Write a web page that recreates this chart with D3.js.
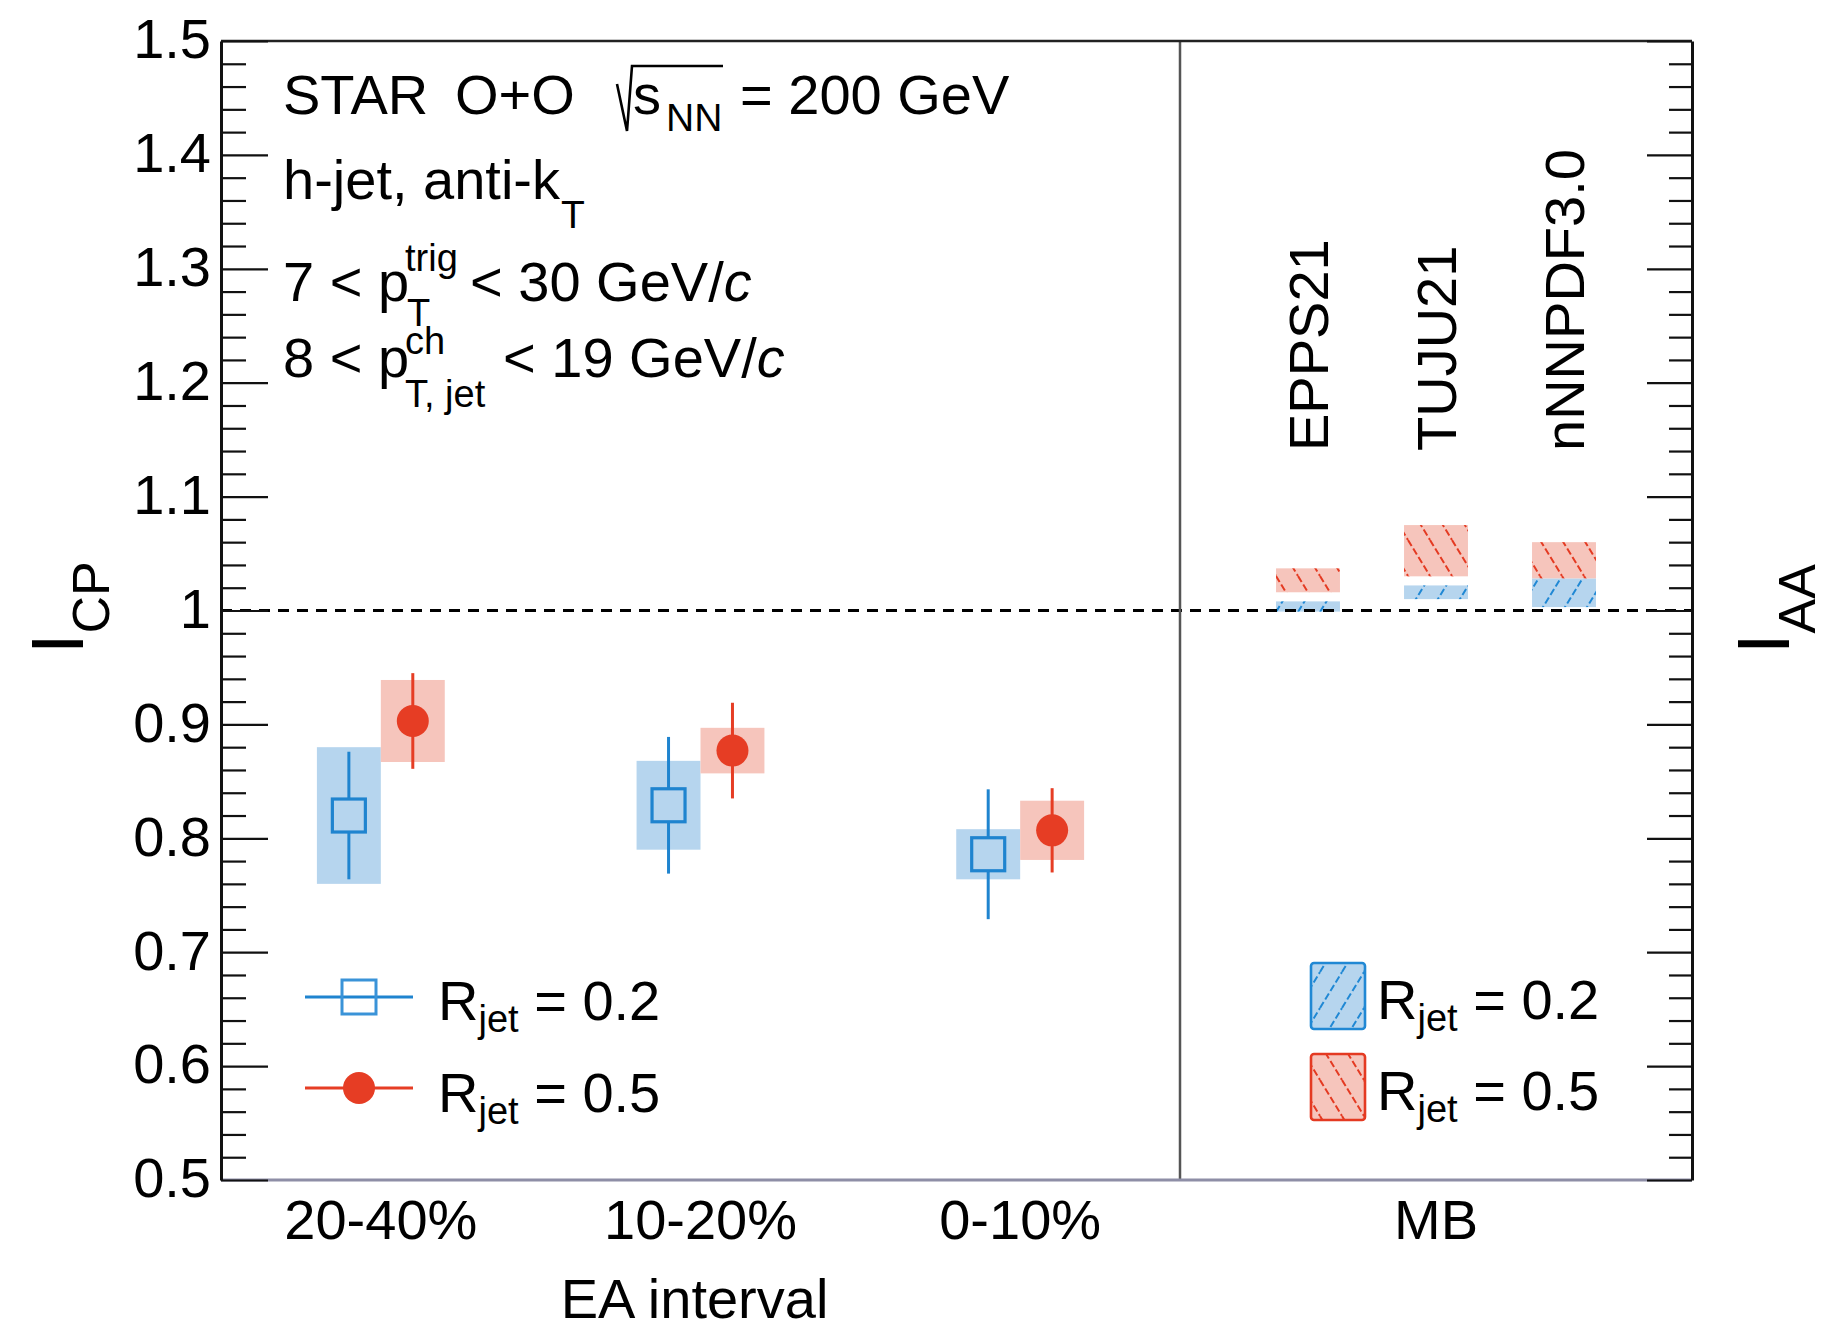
<!DOCTYPE html>
<html><head><meta charset="utf-8">
<script src="https://cdn.jsdelivr.net/npm/d3@7"></script>
<style>
body{margin:0;background:#fff}
svg{display:block}
text{font-family:"Liberation Sans",Arial,Helvetica,sans-serif;fill:#000}
</style>
</head><body>
<svg id="c" width="1845" height="1340"></svg>
<script>
// ---------------- data ----------------
const categories = ["20-40%", "10-20%", "0-10%"];
const r02Values = [0.820, 0.829, 0.786];
const r02Stat   = [0.056, 0.060, 0.057];
const r02Sys    = [0.060, 0.039, 0.022];
const r05Values = [0.903, 0.877, 0.807];
const r05Stat   = [0.042, 0.042, 0.037];
const r05Sys    = [0.036, 0.020, 0.026];

const mbCategory = ["MB"];
const models = ["EPPS21", "TUJU21", "nNNPDF3.0"];
const modelR02Low  = [0.999, 1.010, 1.003];
const modelR02High = [1.008, 1.022, 1.028];
const modelR05Low  = [1.016, 1.030, 1.028];
const modelR05High = [1.037, 1.075, 1.060];

const yMajorTicks = [0.5, 0.6, 0.7, 0.8, 0.9, 1.0, 1.1, 1.2, 1.3, 1.4, 1.5];
const yTickLabels = ["0.5", "0.6", "0.7", "0.8", "0.9", "1", "1.1", "1.2", "1.3", "1.4", "1.5"];

// ---------------- style ----------------
const BLUE = "#1f84cf", BLUE_FILL = "#b6d5ee", BLUE_HATCH = "#2088d4";
const RED = "#e63d24", RED_FILL = "#f6c5bc", RED_HATCH = "#e43a22";
const FS = 56, FS_SUB = 38;

// ---------------- layout ----------------
const L = 221, R = 1692, T = 41, B = 1180, DIV = 1180;
const svg = d3.select("#c");

const y = d3.scaleLinear().domain([0.5, 1.5]).range([B, T]);
const xCat = d3.scaleBand().domain(categories).range([L, DIV]);
const xMB = d3.scaleBand().domain(mbCategory).range([DIV, R]);
const xModel = d3.scalePoint().domain(models).range([DIV, R]).padding(1);
const boxW = xCat.bandwidth() / 5;
const cx = c => xCat(c) + xCat.bandwidth() / 2;

// hatch patterns
const defs = svg.append("defs");
function hatch(id, color, dir) {
  const w = 22, h = 36;
  const p = defs.append("pattern").attr("id", id)
    .attr("patternUnits", "userSpaceOnUse").attr("width", w).attr("height", h);
  [-w, 0, w].forEach(o => {
    p.append("line")
      .attr("x1", o).attr("y1", dir > 0 ? h : 0)
      .attr("x2", o + w).attr("y2", dir > 0 ? 0 : h)
      .attr("stroke", color).attr("stroke-width", 2)
      .attr("stroke-dasharray", "7,3");
  });
}
hatch("hBlue", BLUE_HATCH, 1);
hatch("hRed", RED_HATCH, -1);

// ---------------- systematic boxes ----------------
const g = svg.append("g");
function sysBoxes(vals, sys, off, fill) {
  g.selectAll(null).data(categories).enter().append("rect")
    .attr("x", (c) => cx(c) + off - boxW / 2)
    .attr("width", boxW)
    .attr("y", (c, i) => y(vals[i] + sys[i]))
    .attr("height", (c, i) => y(vals[i] - sys[i]) - y(vals[i] + sys[i]))
    .attr("fill", fill);
}
sysBoxes(r02Values, r02Sys, -boxW / 2, BLUE_FILL);
sysBoxes(r05Values, r05Sys, boxW / 2, RED_FILL);

// model boxes
function modelBoxes(lo, hi, fill, pat) {
  [fill, `url(#${pat})`].forEach(f => {
    g.selectAll(null).data(models).enter().append("rect")
      .attr("x", m => xModel(m) - boxW / 2)
      .attr("width", boxW)
      .attr("y", (m, i) => y(hi[i]))
      .attr("height", (m, i) => y(lo[i]) - y(hi[i]))
      .attr("fill", f);
  });
}
modelBoxes(modelR05Low, modelR05High, RED_FILL, "hRed");
modelBoxes(modelR02Low, modelR02High, BLUE_FILL, "hBlue");

// ---------------- dashed unity line ----------------
svg.append("line").attr("x1", L).attr("x2", R).attr("y1", y(1)).attr("y2", y(1))
  .attr("stroke", "#000").attr("stroke-width", 3).attr("stroke-dasharray", "11,8");

// ---------------- stat error bars + markers ----------------
const SQ = 33, RC = 16;
categories.forEach((c, i) => {
  const x0 = cx(c) - boxW / 2, v = r02Values[i];
  g.append("line").attr("x1", x0).attr("x2", x0)
    .attr("y1", y(v + r02Stat[i])).attr("y2", y(v) - SQ / 2)
    .attr("stroke", BLUE).attr("stroke-width", 3);
  g.append("line").attr("x1", x0).attr("x2", x0)
    .attr("y1", y(v) + SQ / 2).attr("y2", y(v - r02Stat[i]))
    .attr("stroke", BLUE).attr("stroke-width", 3);
});
g.selectAll(null).data(categories).enter().append("rect")
  .attr("x", c => cx(c) - boxW / 2 - SQ / 2)
  .attr("y", (c, i) => y(r02Values[i]) - SQ / 2)
  .attr("width", SQ).attr("height", SQ)
  .attr("fill", "none").attr("stroke", BLUE).attr("stroke-width", 3.2);
g.selectAll(null).data(categories).enter().append("line")
  .attr("x1", c => cx(c) + boxW / 2).attr("x2", c => cx(c) + boxW / 2)
  .attr("y1", (c, i) => y(r05Values[i] + r05Stat[i]))
  .attr("y2", (c, i) => y(r05Values[i] - r05Stat[i]))
  .attr("stroke", RED).attr("stroke-width", 3);
g.selectAll(null).data(categories).enter().append("circle")
  .attr("cx", c => cx(c) + boxW / 2)
  .attr("cy", (c, i) => y(r05Values[i]))
  .attr("r", RC).attr("fill", RED);

// ---------------- frame & axes ----------------
svg.append("line").attr("x1", DIV).attr("x2", DIV).attr("y1", T).attr("y2", B)
  .attr("stroke", "#555").attr("stroke-width", 2.5);
svg.append("line").attr("x1", L).attr("x2", R).attr("y1", T).attr("y2", T)
  .attr("stroke", "#222").attr("stroke-width", 2.5);
svg.append("line").attr("x1", L).attr("x2", R).attr("y1", B).attr("y2", B)
  .attr("stroke", "#8e8ea6").attr("stroke-width", 3);

const minorTicks = d3.range(0, 51).map(k => 0.5 + k * 0.02)
  .filter(v => Math.abs(v * 10 - Math.round(v * 10)) > 1e-6);

function styleAxis(sel) {
  sel.select(".domain").attr("stroke", "#111").attr("stroke-width", 3);
  sel.selectAll(".tick line").attr("stroke", "#111").attr("stroke-width", 2.2);
}
const leftMinor = svg.append("g").attr("transform", `translate(${L},0)`)
  .call(d3.axisLeft(y).tickValues(minorTicks).tickSize(-25).tickFormat(""));
styleAxis(leftMinor); leftMinor.select(".domain").remove();
const leftMajor = svg.append("g").attr("transform", `translate(${L},0)`)
  .call(d3.axisLeft(y).tickValues(yMajorTicks).tickSizeInner(-47).tickSizeOuter(0)
    .tickPadding(10).tickFormat((d, i) => yTickLabels[i]));
styleAxis(leftMajor);
leftMajor.selectAll(".tick text").attr("font-size", FS)
  .style("font-family", '"Liberation Sans",Arial,Helvetica,sans-serif')
  .attr("dy", "0.3em").attr("fill", "#000");
const rightMinor = svg.append("g").attr("transform", `translate(${R},0)`)
  .call(d3.axisRight(y).tickValues(minorTicks).tickSize(-23).tickFormat(""));
styleAxis(rightMinor); rightMinor.select(".domain").remove();
const rightMajor = svg.append("g").attr("transform", `translate(${R},0)`)
  .call(d3.axisRight(y).tickValues(yMajorTicks).tickSizeInner(-45).tickSizeOuter(0).tickFormat(""));
styleAxis(rightMajor);

function bottomLabels(scale) {
  const a = svg.append("g").attr("transform", `translate(0,${B})`)
    .call(d3.axisBottom(scale).tickSize(0).tickPadding(0));
  a.select(".domain").remove();
  a.selectAll(".tick text").attr("font-size", FS)
    .style("font-family", '"Liberation Sans",Arial,Helvetica,sans-serif')
    .attr("y", 59).attr("dy", 0).attr("fill", "#000");
}
bottomLabels(xCat);
bottomLabels(xMB);

svg.append("text").attr("x", (L + DIV) / 2 - 6).attr("y", 1318)
  .attr("text-anchor", "middle").attr("font-size", FS).text("EA interval");

function rotTitle(x, yStart, main, sub) {
  const t = svg.append("text").attr("transform", `translate(${x},${yStart}) rotate(-90)`)
    .attr("font-size", 74);
  t.append("tspan").text(main);
  t.append("tspan").attr("font-size", 52).attr("dy", 26).text(sub);
}
rotTitle(83, 654, "I", "CP");
rotTitle(1789, 654, "I", "AA");

svg.selectAll(null).data(models).enter().append("text")
  .attr("transform", m => `translate(${xModel(m) + 20},451) rotate(-90)`)
  .attr("font-size", FS).text(m => m);

// ---------------- header text ----------------
function txt(x, yb, s, fs, italic) {
  const t = svg.append("text").attr("x", x).attr("y", yb).attr("font-size", fs || FS).text(s);
  if (italic) t.attr("font-style", "italic");
  return t;
}
txt(283, 114, "STAR");
txt(455, 114, "O+O");
svg.append("path").attr("d", "M617,84 L627,131 L632,66 L723,66")
  .attr("fill", "none").attr("stroke", "#000").attr("stroke-width", 2.6);
txt(633, 114, "s");
txt(666, 131, "NN", 39);
txt(740, 114, "= 200 GeV");

txt(283, 199, "h-jet, anti-k");
txt(561, 228, "T", 39);

function gevLine(x, yb, s) {
  const t = svg.append("text").attr("x", x).attr("y", yb).attr("font-size", FS);
  t.append("tspan").text(s);
  t.append("tspan").attr("font-style", "italic").text("c");
}
txt(283, 301, "7 < p");
txt(405, 271, "trig", FS_SUB);
txt(407, 326, "T", FS_SUB);
gevLine(470, 301, "< 30 GeV/");

txt(283, 377, "8 < p");
txt(405, 354, "ch", FS_SUB);
txt(405, 407, "T, jet", FS_SUB);
gevLine(503, 377, "< 19 GeV/");

// ---------------- legends ----------------
function rjet(x, yb, val) {
  const t = svg.append("text").attr("x", x).attr("y", yb).attr("font-size", FS);
  t.append("tspan").text("R");
  t.append("tspan").attr("font-size", FS_SUB).attr("dy", 12).text("jet");
  t.append("tspan").attr("dy", -12).text(" = " + val);
}
const lgX1 = 305, lgX2 = 413, lgMid = (lgX1 + lgX2) / 2;
svg.append("line").attr("x1", lgX1).attr("x2", lgX2).attr("y1", 997).attr("y2", 997)
  .attr("stroke", BLUE).attr("stroke-width", 3);
svg.append("rect").attr("x", lgMid - 17).attr("y", 980).attr("width", 34).attr("height", 34)
  .attr("fill", "none").attr("stroke", "#3a93d8").attr("stroke-width", 3);
svg.append("line").attr("x1", lgX1).attr("x2", lgX2).attr("y1", 1088).attr("y2", 1088)
  .attr("stroke", RED).attr("stroke-width", 3);
svg.append("circle").attr("cx", lgMid).attr("cy", 1088).attr("r", RC).attr("fill", RED);
rjet(438, 1020, "0.2");
rjet(438, 1112, "0.5");

[[963, BLUE_FILL, "hBlue", BLUE_HATCH, "0.2", 1019], [1054, RED_FILL, "hRed", RED_HATCH, "0.5", 1110]]
  .forEach(([yt, fill, pat, col, val, yb]) => {
    svg.append("rect").attr("x", 1311).attr("y", yt).attr("width", 54).attr("height", 66)
      .attr("fill", fill);
    svg.append("rect").attr("x", 1311).attr("y", yt).attr("width", 54).attr("height", 66)
      .attr("rx", 3).attr("fill", `url(#${pat})`).attr("stroke", col).attr("stroke-width", 2.6);
    rjet(1377, yb, val);
  });
</script>
</body></html>
